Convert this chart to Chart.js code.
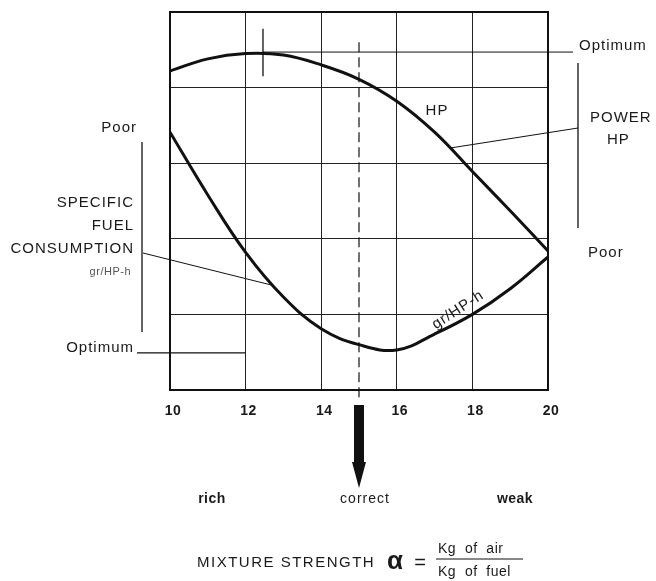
<!DOCTYPE html>
<html>
<head>
<meta charset="utf-8">
<script src="https://cdn.jsdelivr.net/npm/chart.js@4"></script>
<style>
  html, body { margin: 0; padding: 0; background: #fff; }
  #wrap { width: 656px; height: 581px; position: relative; }
</style>
</head>
<body>
<div id="wrap"><canvas id="chart"></canvas></div>
<script>
// Mixture strength (kg air / kg fuel) on x, relative scale units on y
const mixture = [10, 11, 12, 13, 14, 15, 16, 17, 18, 19, 20];
const hpValues = [4.22, 4.38, 4.45, 4.43, 4.30, 4.11, 3.82, 3.41, 2.89, 2.37, 1.84];
const sfcValues = [3.41, 2.58, 1.82, 1.23, 0.81, 0.60, 0.53, 0.74, 1.00, 1.34, 1.76];

const xTicks = [10, 12, 14, 16, 18, 20];
const correctMixture = 15;
const hpOptimumX = 12.46;
const hpLeaderAt = { x: 17.4, y: 3.20 };
const sfcLeaderAt = { x: 12.75, y: 1.38 };

const FONT = '"Liberation Sans", Arial, sans-serif';

function toPoints(xs, ys) {
  return xs.map((x, i) => ({ x: x, y: ys[i] }));
}

function txt(ctx, s, x, y, size, align, opts = {}) {
  ctx.save();
  ctx.font = (opts.weight || 'normal') + ' ' + size + 'px ' + (opts.family || FONT);
  ctx.letterSpacing = (opts.spacing !== undefined ? opts.spacing : 1) + 'px';
  ctx.fillStyle = opts.color || '#1a1a1a';
  ctx.textAlign = align;
  ctx.textBaseline = 'middle';
  ctx.fillText(s, x, y);
  ctx.restore();
}

function line(ctx, x1, y1, x2, y2, w, dash) {
  ctx.save();
  ctx.strokeStyle = '#111';
  ctx.lineWidth = w;
  if (dash) ctx.setLineDash(dash);
  ctx.beginPath();
  ctx.moveTo(x1, y1);
  ctx.lineTo(x2, y2);
  ctx.stroke();
  ctx.restore();
}

// Annotations: frame, tick labels, optimum markers, leaders, side labels, arrow, caption
const annotations = {
  id: 'annotations',
  afterDatasetsDraw(chart) {
    const ctx = chart.ctx;
    const xs = chart.scales.x, ys = chart.scales.y;
    const px = v => xs.getPixelForValue(v);
    const py = v => ys.getPixelForValue(v);
    const a = chart.chartArea;

    // frame
    ctx.save();
    ctx.strokeStyle = '#111';
    ctx.lineWidth = 2;
    ctx.strokeRect(a.left, a.top, a.right - a.left, a.bottom - a.top);
    ctx.restore();

    // x tick labels
    xTicks.forEach(v => {
      txt(ctx, String(v), px(v) + 3, a.bottom + 21, 14, 'center', { weight: 'bold', spacing: 0.5 });
    });

    // correct mixture dashed line + arrow
    const cx = px(correctMixture);
    line(ctx, cx, py(4.6), cx, 398, 1.2, [10, 5]);
    ctx.save();
    ctx.fillStyle = '#111';
    ctx.fillRect(cx - 5, 405, 10, 58);
    ctx.beginPath();
    ctx.moveTo(cx - 7, 462);
    ctx.lineTo(cx + 7, 462);
    ctx.lineTo(cx, 488);
    ctx.closePath();
    ctx.fill();
    ctx.restore();

    // HP optimum
    const hpMax = 4.47;
    line(ctx, px(hpOptimumX), py(4.78), px(hpOptimumX), py(4.15), 1.3);
    line(ctx, px(hpOptimumX), py(hpMax), 573, py(hpMax), 1);

    // SFC optimum
    const sfcMin = 0.49;
    line(ctx, 137, py(sfcMin), px(12), py(sfcMin), 1.2);

    // leaders
    line(ctx, px(hpLeaderAt.x), py(hpLeaderAt.y), 578, 128, 1);
    line(ctx, 143, 253, px(sfcLeaderAt.x), py(sfcLeaderAt.y), 1);

    // brackets
    line(ctx, 142, 142, 142, 332, 1.3);
    line(ctx, 578, 63, 578, 228, 1.3);

    // left labels
    txt(ctx, 'Poor', 137, 128, 15, 'right');
    txt(ctx, 'SPECIFIC', 134, 203, 15, 'right');
    txt(ctx, 'FUEL', 134, 226, 15, 'right');
    txt(ctx, 'CONSUMPTION', 134, 249, 15, 'right');
    txt(ctx, 'gr/HP-h', 131, 272, 11, 'right', { color: '#555', spacing: 0.5 });
    txt(ctx, 'Optimum', 134, 348, 15, 'right');

    // right labels
    txt(ctx, 'Optimum', 579, 46, 15, 'left');
    txt(ctx, 'POWER', 590, 118, 15, 'left');
    txt(ctx, 'HP', 607, 140, 15, 'left');
    txt(ctx, 'Poor', 588, 253, 15, 'left');

    // curve labels
    txt(ctx, 'HP', 437, 111, 15, 'center');
    ctx.save();
    ctx.translate(458, 310);
    ctx.rotate(-33 * Math.PI / 180);
    txt(ctx, 'gr/HP-h', 0, 0, 15, 'center', { spacing: 1 });
    ctx.restore();

    // mixture descriptions
    txt(ctx, 'rich', 212, 499, 14, 'center', { weight: 'bold', spacing: 0.5 });
    txt(ctx, 'correct', 365, 499, 14, 'center');
    txt(ctx, 'weak', 515, 499, 14, 'center', { weight: 'bold', spacing: 0.5 });

    // axis caption
    txt(ctx, 'MIXTURE STRENGTH', 197, 563, 15, 'left', { spacing: 1.5 });
    txt(ctx, '\u03b1', 395, 562, 26, 'center', { weight: 'bold', spacing: 0 });
    txt(ctx, '=', 420, 563, 20, 'center', { spacing: 0 });
    txt(ctx, 'Kg  of  air', 438, 549, 14, 'left', { spacing: 0.5 });
    line(ctx, 436, 559, 523, 559, 1);
    txt(ctx, 'Kg  of  fuel', 438, 572, 14, 'left', { spacing: 0.5 });
  }
};

new Chart(document.getElementById('chart'), {
  type: 'line',
  data: {
    datasets: [
      {
        label: 'HP',
        data: toPoints(mixture, hpValues),
        borderColor: '#111',
        borderWidth: 3,
        pointRadius: 0,
        tension: 0.4,
        fill: false
      },
      {
        label: 'gr/HP-h',
        data: toPoints(mixture, sfcValues),
        borderColor: '#111',
        borderWidth: 3,
        pointRadius: 0,
        tension: 0.4,
        fill: false
      }
    ]
  },
  options: {
    responsive: true,
    maintainAspectRatio: false,
    animation: false,
    layout: { padding: { left: 170, right: 108, top: 12, bottom: 191 } },
    plugins: {
      legend: { display: false },
      tooltip: { enabled: false }
    },
    scales: {
      x: {
        type: 'linear',
        min: 10,
        max: 20,
        afterFit: s => { s.height = 0; },
        grid: { color: '#222', lineWidth: 1, drawTicks: false },
        border: { color: '#111', width: 2 },
        ticks: { display: false, stepSize: 2 }
      },
      y: {
        min: 0,
        max: 5,
        afterFit: s => { s.width = 0; },
        grid: { color: '#222', lineWidth: 1, drawTicks: false },
        border: { color: '#111', width: 2 },
        ticks: { display: false, stepSize: 1 }
      }
    }
  },
  plugins: [annotations]
});
</script>
</body>
</html>
